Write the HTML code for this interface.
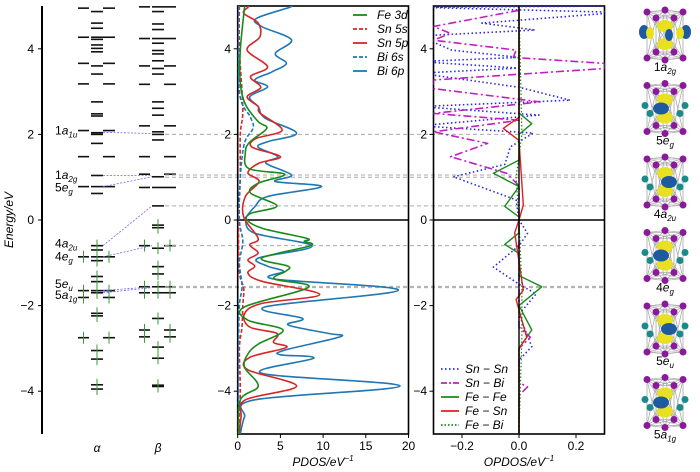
<!DOCTYPE html>
<html><head><meta charset="utf-8"><style>
body{margin:0;background:#fff;}
svg{display:block;font-family:"Liberation Sans",sans-serif;}
.t{font-size:12px;fill:#000}
.i{font-style:italic}
</style></head><body>
<svg id="fig" width="700" height="472" viewBox="0 0 700 472">
<defs>
<clipPath id="cp2"><rect x="237.7" y="6" width="170.8" height="428"/></clipPath>
<clipPath id="cp3"><rect x="433.5" y="6" width="171" height="428"/></clipPath>
</defs>
<g id="levels"></g>
<g id="pdos"></g>
<g id="opdos"></g>
<g id="mos"></g>
</svg>
<script>
// ---------- data ----------
const yTicks=[4,2,0,-2,-4];
const pdosTicks=[0,5,10,15,20];
const opdosTicks=[-0.2,0.0,0.2];
const alphaLevels=[[4.95,'p'],[4.87,'c'],[4.6,'c'],[4.48,'c'],[4.27,'a'],[4.22,'c'],[4.09,'c'],[4.01,'c'],[3.93,'c'],[3.66,'p'],[3.6,'c'],[3.41,'c'],[3.18,'p'],[2.76,'c'],[2.48,'c'],[2.43,'c'],[2.09,'p'],[2.04,'c'],[2.0,'c'],[1.79,'c'],[1.48,'p'],[1.04,'c'],[0.78,'a'],[0.62,'c']];
const alphaOcc=[[-0.6,'c'],[-0.7,'c'],[-0.86,'a'],[-0.95,'c'],[-1.32,'c'],[-1.44,'c'],[-1.65,'a'],[-1.7,'c'],[-1.81,'p'],[-2.18,'c'],[-2.24,'c'],[-2.75,'p'],[-3.05,'c'],[-3.25,'c'],[-3.85,'c'],[-3.95,'c']];
const betaLevels=[[4.98,'a'],[4.87,'c'],[4.58,'c'],[4.45,'c'],[4.24,'a'],[4.13,'c'],[3.96,'c'],[3.88,'c'],[3.72,'c'],[3.6,'p'],[3.54,'c'],[3.41,'c'],[3.17,'p'],[2.76,'c'],[2.61,'c'],[2.45,'c'],[2.2,'p'],[2.06,'c'],[2.0,'c'],[1.87,'c'],[1.48,'p'],[1.07,'p'],[1.01,'c'],[0.76,'a'],[0.33,'c']];
const betaOcc=[[-0.12,'c'],[-0.18,'c'],[-0.6,'p'],[-0.66,'c'],[-1.09,'c'],[-1.26,'c'],[-1.56,'a'],[-1.7,'a'],[-2.3,'c'],[-2.57,'p'],[-2.73,'p'],[-2.97,'c'],[-3.23,'c'],[-3.86,'c'],[-3.89,'c']];
const connectors=[[2.05,2.02],[1.04,1.04],[0.78,1.01],[-0.6,0.33],[-0.86,-0.6],[-1.65,-1.56],[-1.7,-1.58]];
const guideE=[2.0,1.05,1.0,0.33,-0.6,-1.55,-1.58];
const moLabels=[['1a','1u',2.09],['1a','2g',1.05],['5e','g',0.76],['4a','2u',-0.55],['4e','g',-0.85],['5e','u',-1.5],['5a','1g',-1.75]];
const bi6p=[[5,6.1],[4.97,6.1],[4.71,2.2],[4.52,2.8],[4.21,6.3],[3.89,4.4],[3.66,5.7],[3.46,4.0],[3.27,2.0],[3.11,3.5],[2.88,1.4],[2.65,2.4],[2.38,3.2],[2.03,6.9],[1.83,3.5],[1.7,2.4],[1.48,4.7],[1.33,3.3],[1.05,6.3],[0.9,4.4],[0.78,9.8],[0.55,3.5],[0.31,2.0],[0.07,1.0],[0,0.9],[-0.31,2.0],[-0.61,8.7],[-0.89,2.4],[-1.08,3.5],[-1.2,5.4],[-1.38,4.3],[-1.64,18.8],[-2.03,3.2],[-2.3,7.6],[-2.45,5.9],[-2.65,10.6],[-2.73,12.0],[-3.04,5.5],[-3.15,5.0],[-3.23,8.9],[-3.58,2.8],[-3.88,19.0],[-4.2,2.0],[-4.6,0.8],[-5,0.3]];
const sn5p=[[5,1.2],[4.97,1.2],[4.83,0.7],[4.6,2.4],[4.28,2.6],[3.97,1.1],[3.58,3.5],[3.35,1.5],[3.1,2.7],[2.88,1.1],[2.65,2.4],[2.5,2.6],[2.1,5.2],[1.9,2.1],[1.7,1.7],[1.48,5.0],[1.33,2.5],[1.1,1.2],[0.9,2.5],[0.55,0.9],[0.07,0.7],[-0.43,2.4],[-0.58,1.4],[-0.77,2.4],[-0.93,1.2],[-1.08,2.0],[-1.24,1.2],[-1.43,2.8],[-1.74,9.6],[-1.95,2.8],[-2.19,0.8],[-2.5,1.4],[-2.65,4.6],[-2.86,4.2],[-2.98,5.7],[-3.21,1.4],[-3.5,1.2],[-3.88,6.9],[-4.2,0.9],[-4.6,0.4],[-5,0.2]];
const fe3d=[[5,0.8],[4.97,0.8],[3.97,0.3],[3.2,0.3],[2.7,0.9],[2.3,2.4],[2.14,3.4],[1.82,1.4],[1.58,0.9],[1.2,1.3],[1.07,5.5],[0.86,2.4],[0.63,1.5],[0.33,4.6],[0.16,1.6],[0,1.1],[-0.2,3.0],[-0.43,8.1],[-0.5,7.8],[-0.6,8.5],[-0.89,2.8],[-1.08,5.9],[-1.2,5.6],[-1.38,4.3],[-1.57,8.3],[-2.03,0.8],[-2.34,1.2],[-2.57,5.3],[-2.9,2.4],[-3.13,1.2],[-3.44,0.8],[-3.88,2.4],[-4.2,0.3],[-5,0.1]];
const sn5s=[[5,0.2],[4,0.2],[2.6,0.6],[2.0,0.3],[1.0,0.3],[0,0.1],[-1.2,0.2],[-1.6,0.7],[-2.0,0.6],[-2.5,0.5],[-3.0,0.2],[-4,0.3],[-5,0.1]];
const bi6s=[[5,0.1],[3,0.2],[2.4,1.5],[2.15,1.8],[1.8,0.8],[1.0,0.3],[0,0.2],[-0.5,0.6],[-1.0,0.2],[-1.55,0.5],[-2.0,0.2],[-3,0.1],[-5,0.05]];
const snsn=[[5,0.35],[4.97,-0.35],[4.85,0.35],[4.6,-0.13],[4.44,0.056],[4.3,-0.35],[3.97,-0.236],[3.8,0.0],[3.7,-0.35],[3.55,0.0],[3.43,-0.35],[3.1,0.0],[2.8,0.18],[2.65,-0.35],[2.45,0.07],[2.2,-0.35],[2.03,0.05],[1.71,-0.03],[1.3,-0.05],[1.01,-0.23],[0.47,-0.01],[0,0],[-0.31,0.03],[-0.6,0.0],[-1.1,-0.09],[-1.5,0.0],[-1.73,0.06],[-2.2,0.0],[-2.96,0.045],[-3.27,0.0],[-5,0]];
const snbi=[[4.9,0],[4.52,-0.3],[4.36,-0.24],[4.2,-0.3],[3.97,-0.01],[3.8,-0.02],[3.66,0.3],[3.54,0.3],[3.27,-0.3],[3.07,-0.3],[2.76,0.074],[2.49,-0.3],[2.33,0.0],[2.06,-0.3],[1.79,-0.11],[1.48,-0.24],[1.09,-0.043],[0.8,0],[-2.5,0],[-2.74,0.04],[-3.0,0],[-3.8,0],[-3.9,0.03],[-4.1,0],[-5,0]];
const fefe=[[5,0],[2.5,0],[2.25,0.045],[2.0,0],[1.4,0],[1.09,-0.09],[0.78,0],[0.32,-0.05],[0.07,0],[-0.3,0],[-0.57,-0.05],[-0.78,0],[-1.3,0],[-1.56,0.08],[-2.0,0],[-2.57,0.045],[-3.0,0],[-5,0]];
const fesn=[[5,0],[2.4,0],[2.14,-0.055],[1.86,0],[0.35,0.015],[0,0],[-0.3,-0.015],[-1.64,0.015],[-1.86,-0.01],[-2.74,0.027],[-3.0,0],[-5,0]];
const febi=[[5,0],[2.0,0.01],[1.0,-0.01],[0,0],[-1.6,0.01],[-2.7,0.01],[-5,0]];
// ---------- scales ----------
const yE=e=>220-e*42.8;
const xP=v=>237.7+v*8.54;
const xO=v=>519+v*285;
const NS="http://www.w3.org/2000/svg";
function mk(tag,attrs,parent){const e=document.createElementNS(NS,tag);for(const k in attrs)e.setAttribute(k,attrs[k]);parent.appendChild(e);return e;}
function smooth(pts){let d='M'+pts[0][0].toFixed(1)+','+pts[0][1].toFixed(1);
 for(let i=0;i<pts.length-1;i++){const p0=pts[i-1]||pts[i],p1=pts[i],p2=pts[i+1],p3=pts[i+2]||p2;
  const c1=[p1[0]+(p2[0]-p0[0])/6,p1[1]+(p2[1]-p0[1])/6],c2=[p2[0]-(p3[0]-p1[0])/6,p2[1]-(p3[1]-p1[1])/6];
  d+=' C'+c1.map(v=>v.toFixed(1))+' '+c2.map(v=>v.toFixed(1))+' '+p2.map(v=>v.toFixed(1));}
 return d;}
function text(par,x,y,s,cls,anchor){const t=mk('text',{x:x,y:y,class:cls||'t','text-anchor':anchor||'middle'},par);t.textContent=s;return t;}
// ---------- panel 1: levels ----------
const L=document.getElementById('levels');
let ax=mk('line',{x1:42,y1:6,x2:42,y2:434,stroke:'#000','stroke-width':2},L);


yTicks.forEach(t=>{mk('line',{x1:38,x2:42,y1:yE(t),y2:yE(t),stroke:'#000'},L);
 const tl=text(L,34,yE(t)+4,t<0?'\u2212'+(-t):String(t),'t','end');
 
 });
const yl=text(L,0,0,'Energy/eV','t i');
yl.setAttribute('transform','translate(13,220) rotate(-90)');


function drawLevels(list,cx,occ){list.forEach(([e,ty])=>{const y=yE(e);
 const segs=[];if(ty!=='p')segs.push([cx-6,cx+6]);if(ty!=='c'){segs.push([cx-19,cx-8]);segs.push([cx+6,cx+18]);}
 segs.forEach(s=>{const ln=mk('line',{x1:s[0],x2:s[1],y1:y,y2:y,stroke:'#111','stroke-width':1.6},L);
  
  
  if(occ){const m=(s[0]+s[1])/2;mk('line',{x1:m,x2:m,y1:y-6,y2:y+6,stroke:'#3a9a3a','stroke-width':1},L);}});});}
drawLevels(alphaLevels,97,false);drawLevels(alphaOcc,97,true);
drawLevels(betaLevels,158,false);drawLevels(betaOcc,158,true);
connectors.forEach(([a,b])=>{const c=mk('line',{x1:103,y1:yE(a),x2:152,y2:yE(b),stroke:'#6a6aee','stroke-width':0.8,'stroke-dasharray':'2,1.5'},L);
 
 });
guideE.forEach(e=>{const g=mk('line',{x1:165,x2:605,y1:yE(e),y2:yE(e),stroke:'#aaa','stroke-width':1,'stroke-dasharray':'4,3'},L);
 
 });
moLabels.forEach(([a,s,e],i)=>{const t=mk('text',{x:55,y:yE(e)+4,class:'t','text-anchor':'start'},L);
 
 
 t.textContent=a[0];const ts=mk('tspan',{class:'i'},t);ts.textContent=a[1];const sb=mk('tspan',{class:'i','font-size':'8','dy':'3'},t);sb.textContent=s;});
const la=text(L,97,452,'\u03b1','t i');
const lb=text(L,158,452,'\u03b2','t i');
// ---------- panel 2: PDOS ----------
const P=document.getElementById('pdos');
const pf=mk('rect',{x:237.7,y:6,width:170.8,height:428,fill:'none',stroke:'#000','stroke-width':1.6},P);


mk('line',{x1:237.7,x2:408.5,y1:yE(0),y2:yE(0),stroke:'#000','stroke-width':1.6},P);
yTicks.forEach(t=>{mk('line',{x1:233.7,x2:237.7,y1:yE(t),y2:yE(t),stroke:'#000'},P);
 const tl=text(P,231,yE(t)+4,t<0?'\u2212'+(-t):String(t),'t','end');
 
 });
pdosTicks.forEach(t=>{mk('line',{x1:xP(t),x2:xP(t),y1:434,y2:438,stroke:'#000'},P);
 const tl=text(P,xP(t),450,String(t));
 
 });
const pt=mk('text',{x:323,y:466,class:'t i','text-anchor':'middle'},P);pt.textContent='PDOS/eV';


const ps=mk('tspan',{'font-size':'8',dy:'-5'},pt);ps.textContent='\u22121';
const pg=mk('g',{'clip-path':'url(#cp2)'},P);
const pSeries=[[sn5s,'#d62728','4,2','sn-5s-line'],[bi6s,'#1f77b4','4,2','bi-6s-line'],[bi6p,'#1f77b4','','bi-6p-line'],[sn5p,'#d62728','','sn-5p-line'],[fe3d,'#1a8a1a','','fe-3d-line']];
pSeries.forEach(([d,c,da,n])=>{const p=mk('path',{d:smooth(d.map(([e,v])=>[xP(v),yE(e)])),fill:'none',stroke:c,'stroke-width':1.6,'stroke-dasharray':da},pg);
 
 });
const pLeg=[['Fe 3d','#1a8a1a',''],['Sn 5s','#d62728','4,2'],['Sn 5p','#d62728',''],['Bi 6s','#1f77b4','4,2'],['Bi 6p','#1f77b4','']];
pLeg.forEach(([s,c,da],i)=>{const y=15+i*14;const g=mk('g',{},P);
 
 
 mk('line',{x1:353,x2:367,y1:y,y2:y,stroke:c,'stroke-width':1.8,'stroke-dasharray':da},g);text(g,377,y+4,s,'t i','start');});
// ---------- panel 3: OPDOS ----------
const O=document.getElementById('opdos');
const of=mk('rect',{x:433.5,y:6,width:171,height:428,fill:'none',stroke:'#000','stroke-width':1.6},O);


yTicks.forEach(t=>{mk('line',{x1:429.5,x2:433.5,y1:yE(t),y2:yE(t),stroke:'#000'},O);
 const tl=text(O,427,yE(t)+4,t<0?'\u2212'+(-t):String(t),'t','end');
 
 });
opdosTicks.forEach(t=>{mk('line',{x1:xO(t),x2:xO(t),y1:434,y2:438,stroke:'#000'},O);
 const tl=text(O,xO(t),450,t.toFixed(1).replace('-','\u2212'));
 
 });
const ot=mk('text',{x:519,y:466,class:'t i','text-anchor':'middle'},O);ot.textContent='OPDOS/eV';


const os=mk('tspan',{'font-size':'8',dy:'-5'},ot);os.textContent='\u22121';
const og=mk('g',{'clip-path':'url(#cp3)'},O);
const oSeries=[[snsn,'#2b2bdd','1.5,2.5',1.6,'sn-sn-line'],[snbi,'#c020c0','8,3,2,3',1.6,'sn-bi-line'],[fefe,'#1a8a1a','',1.4,'fe-fe-line'],[fesn,'#e0201f','',1.4,'fe-sn-line'],[febi,'#1a8a1a','1.5,2',1.2,'fe-bi-line']];
oSeries.forEach(([d,c,da,w,n])=>{const p=mk('path',{d:'M'+d.map(([e,v])=>xO(v).toFixed(1)+','+yE(e).toFixed(1)).join(' L'),fill:'none',stroke:c,'stroke-width':w,'stroke-dasharray':da,'stroke-linejoin':'round'},og);
 
 });
mk('line',{x1:433.5,x2:604.5,y1:yE(0),y2:yE(0),stroke:'#000','stroke-width':1.6},O);
mk('line',{x1:xO(0),x2:xO(0),y1:6,y2:434,stroke:'#000','stroke-width':1.4},O);
const oLeg=[['Sn \u2212 Sn','#2b2bdd','1.5,2.5'],['Sn \u2212 Bi','#c020c0','6,2,2,2'],['Fe \u2212 Fe','#1a8a1a',''],['Fe \u2212 Sn','#e0201f',''],['Fe \u2212 Bi','#1a8a1a','1.5,2']];
oLeg.forEach(([s,c,da],i)=>{const y=369+i*14;const g=mk('g',{},O);
 
 
 mk('line',{x1:441,x2:459,y1:y,y2:y,stroke:c,'stroke-width':1.8,'stroke-dasharray':da},g);text(g,465,y+4,s,'t i','start');});
// ---------- orbital images ----------
const M=document.getElementById('mos');
const moNames=[['1a','2g'],['5e','g'],['4a','2u'],['4e','g'],['5e','u'],['5a','1g']];
moNames.forEach(([a,s],i)=>{const top=8+i*73.5;const g=mk('g',{transform:'translate(0,'+top+')'},M);
 
 
 const cx=665;
 const pur=[[647,4],[665,2],[683,4],[647,50],[665,52],[683,50],[656,10],[674,10],[656,44],[674,44]];
 const teal=[[645,24],[685,24],[650,32],[680,32]];
 pur.forEach(p=>pur.forEach(q=>{if(Math.hypot(p[0]-q[0],p[1]-q[1])<50)mk('line',{x1:p[0],y1:p[1],x2:q[0],y2:q[1],stroke:'#aaa','stroke-width':0.6},g);}));
 mk('ellipse',{cx:cx,cy:18,rx:8,ry:6,fill:'#e8e020'},g);mk('ellipse',{cx:cx,cy:36,rx:8,ry:6,fill:'#e8e020'},g);
 mk('ellipse',{cx:cx+(i%2?-4:4),cy:27,rx:i==0?4:8,ry:6,fill:'#1e5aa0'},g);
 if(i==0){mk('ellipse',{cx:644,cy:24,rx:5,ry:7,fill:'#1e5aa0'},g);mk('ellipse',{cx:686,cy:24,rx:5,ry:7,fill:'#1e5aa0'},g);mk('ellipse',{cx:650,cy:25,rx:4,ry:6,fill:'#e8e020'},g);mk('ellipse',{cx:680,cy:25,rx:4,ry:6,fill:'#e8e020'},g);}
 else teal.forEach(p=>mk('circle',{cx:p[0],cy:p[1],r:3.5,fill:'#1a8a8a'},g));
 pur.forEach(p=>mk('circle',{cx:p[0],cy:p[1],r:3.5,fill:'#8a1a9a'},g));
 const t=mk('text',{x:cx,y:63,class:'t','text-anchor':'middle',fill:'#333'},g);t.textContent=a[0];
 const t1=mk('tspan',{class:'i'},t);t1.textContent=a[1];const t2=mk('tspan',{class:'i','font-size':'8',dy:'3'},t);t2.textContent=s;});
</script>
</body></html>
